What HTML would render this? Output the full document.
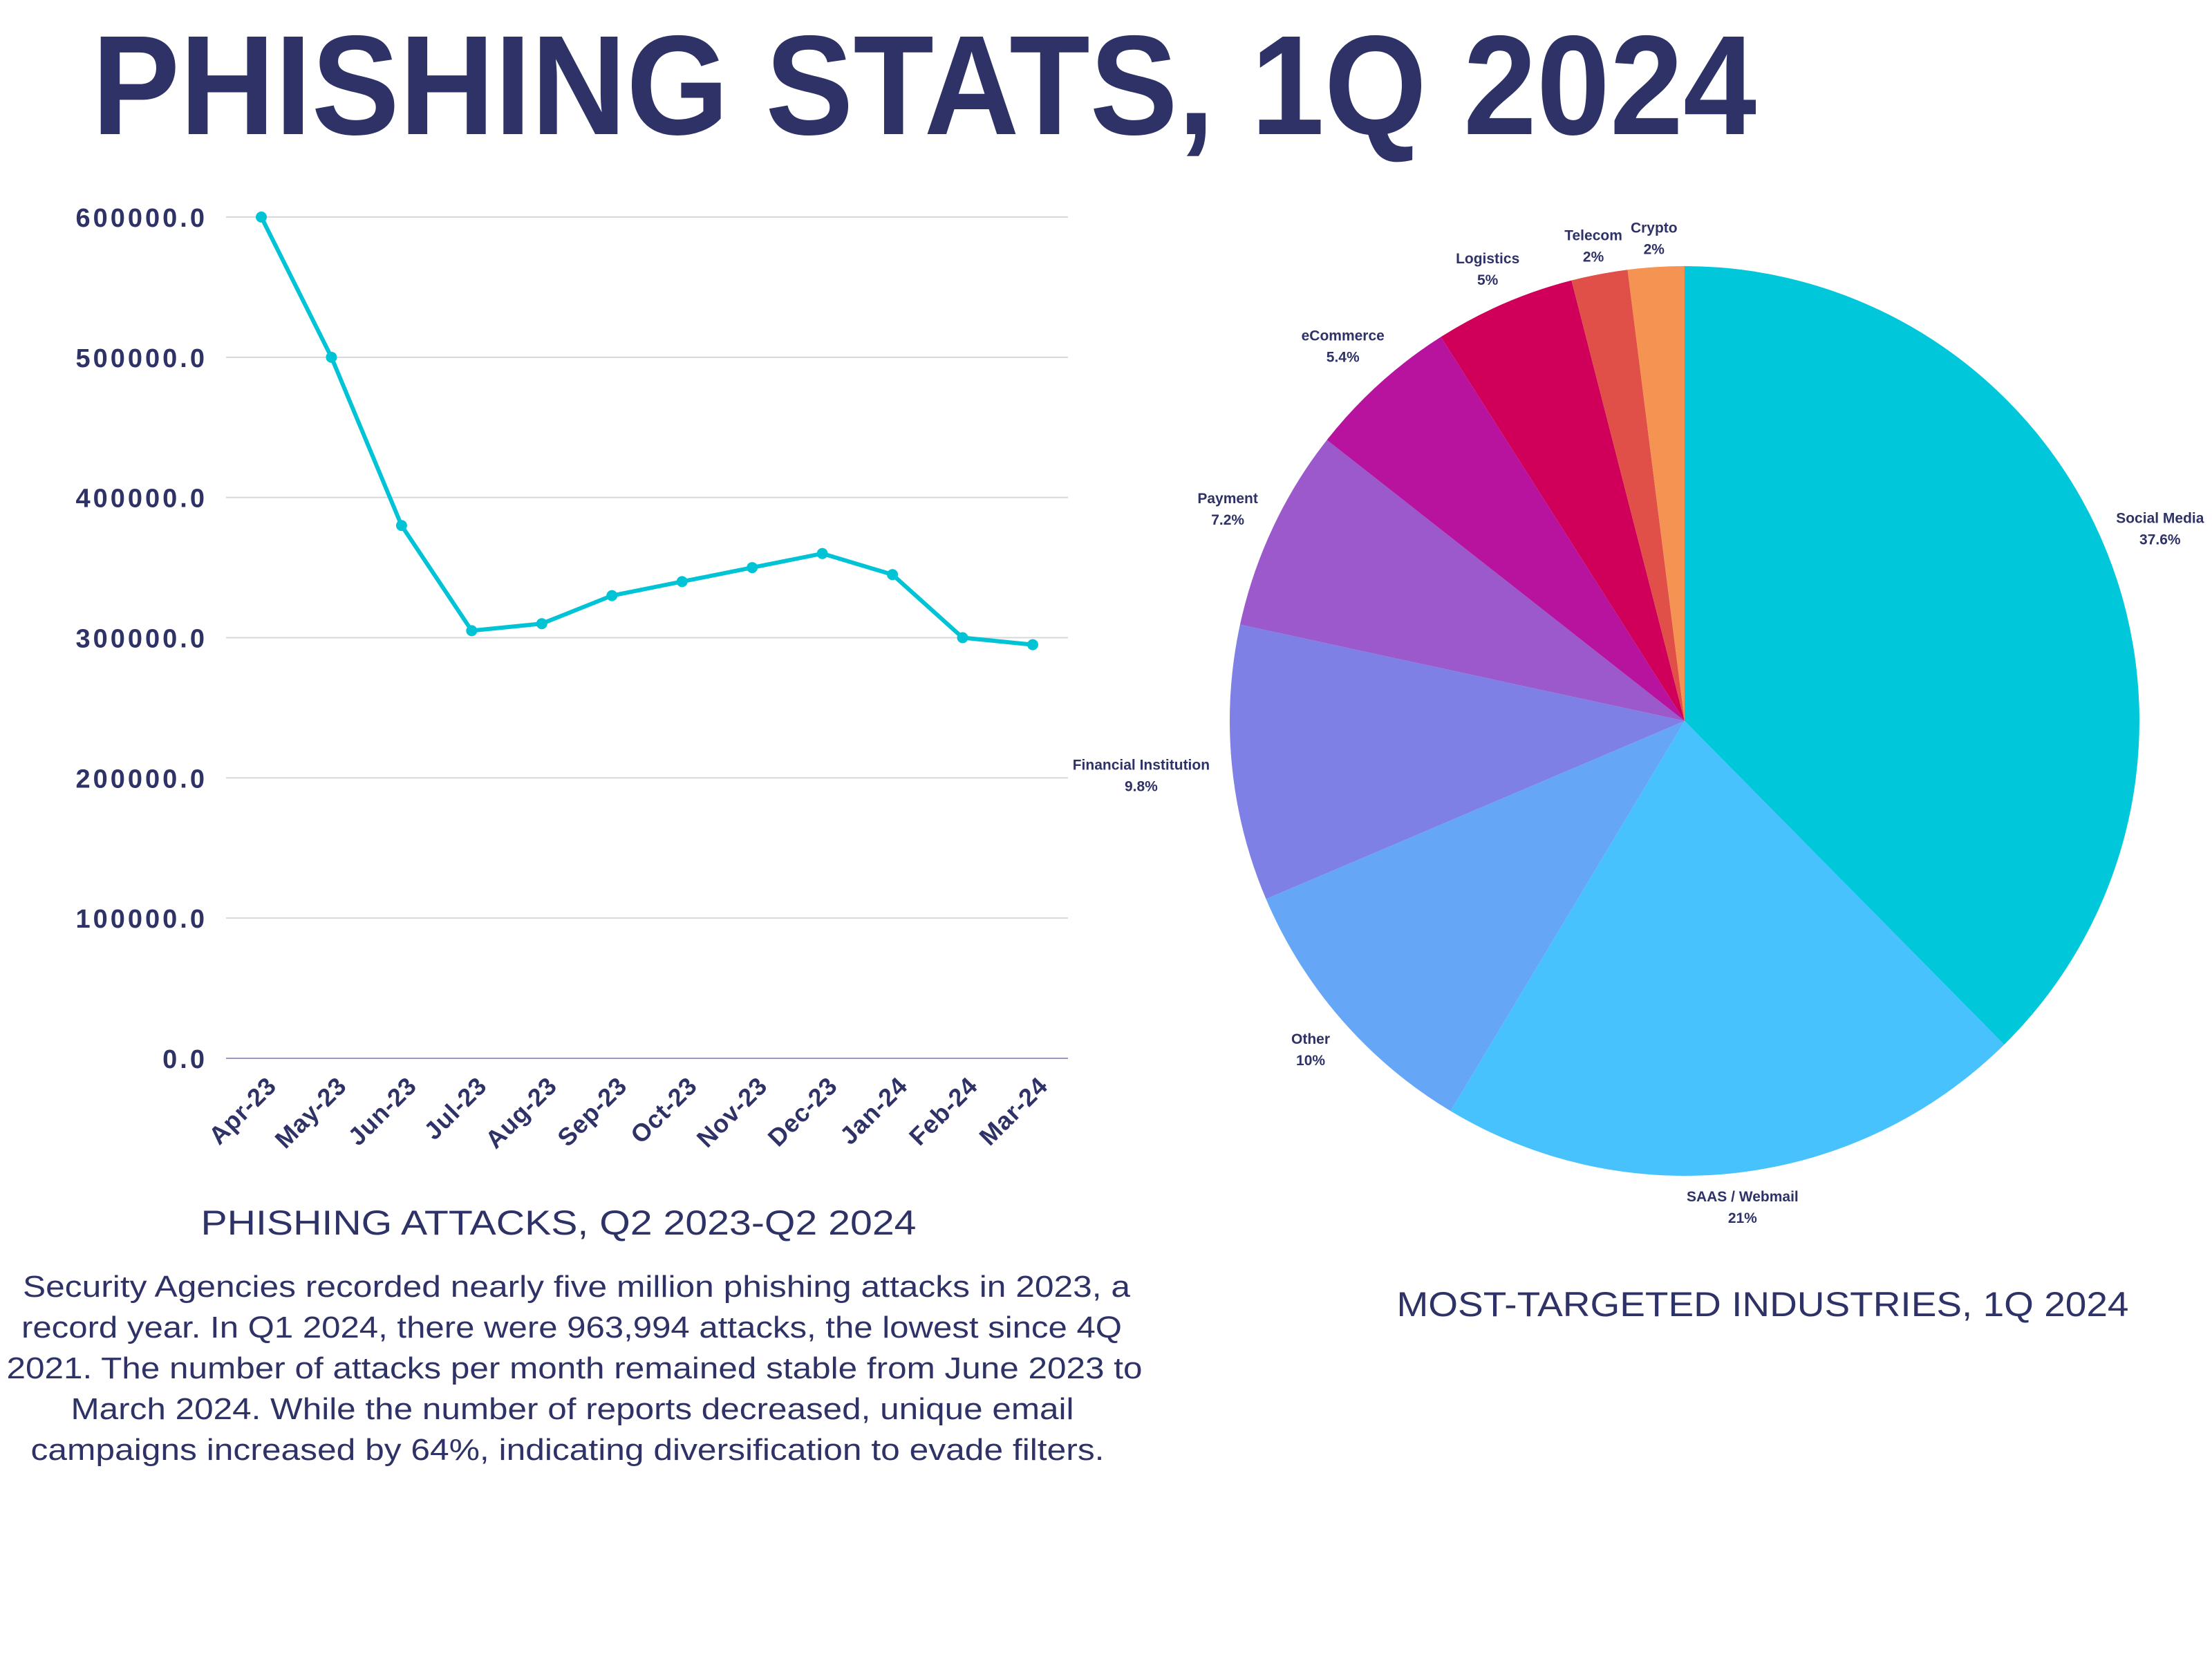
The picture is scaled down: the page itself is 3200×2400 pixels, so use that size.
<!DOCTYPE html>
<html><head><meta charset="utf-8"><style>
html,body{margin:0;padding:0;background:#fff;width:3200px;height:2400px;overflow:hidden}
svg{display:block}
text{font-family:"Liberation Sans",sans-serif;fill:#2e3266}
</style></head><body>
<svg id="root" width="3200" height="2400" viewBox="0 0 3200 2400">
<text x="133" y="194" font-size="205" font-weight="bold" textLength="2408" lengthAdjust="spacingAndGlyphs">PHISHING STATS, 1Q 2024</text>
<g id="line-chart"></g>
<g id="pie-chart"></g>
<text x="808" y="1786" font-size="50" text-anchor="middle" textLength="1035" lengthAdjust="spacingAndGlyphs">PHISHING ATTACKS, Q2 2023-Q2 2024</text>
<g font-size="44">
<text x="834" y="1876" text-anchor="middle" textLength="1602" lengthAdjust="spacingAndGlyphs">Security Agencies recorded nearly five million phishing attacks in 2023, a</text>
<text x="827" y="1935" text-anchor="middle" textLength="1592" lengthAdjust="spacingAndGlyphs">record year. In Q1 2024, there were 963,994 attacks, the lowest since 4Q</text>
<text x="831" y="1994" text-anchor="middle" textLength="1643" lengthAdjust="spacingAndGlyphs">2021. The number of attacks per month remained stable from June 2023 to</text>
<text x="828" y="2053" text-anchor="middle" textLength="1451" lengthAdjust="spacingAndGlyphs">March 2024. While the number of reports decreased, unique email</text>
<text x="821" y="2112" text-anchor="middle" textLength="1553" lengthAdjust="spacingAndGlyphs">campaigns increased by 64%, indicating diversification to evade filters.</text>
</g>
<text x="2550" y="1904" font-size="50" text-anchor="middle" textLength="1059" lengthAdjust="spacingAndGlyphs">MOST-TARGETED INDUSTRIES, 1Q 2024</text>
</svg>
<script>
const months = ["Apr-23","May-23","Jun-23","Jul-23","Aug-23","Sep-23","Oct-23","Nov-23","Dec-23","Jan-24","Feb-24","Mar-24"];
const attacks = [600000,500000,380000,305000,310000,330000,340000,350000,360000,345000,300000,295000];
const yTicks = [0,100000,200000,300000,400000,500000,600000];
const yTickLabels = ["0.0","100000.0","200000.0","300000.0","400000.0","500000.0","600000.0"];
const industries = ["Social Media","SAAS / Webmail","Other","Financial Institution","Payment","eCommerce","Logistics","Telecom","Crypto"];
const shares = [37.6,21,10,9.8,7.2,5.4,5,2,2];
const shareLabels = ["37.6%","21%","10%","9.8%","7.2%","5.4%","5%","2%","2%"];
const sliceColors = ["#00c8da","#48c2fd","#66a6f7","#7f80e6","#9b59cb","#b8139f","#d0005a","#e05048","#f59352"];
const labelRadiusFactor = [1.13,1.07,1.09,1.2,1.11,1.12,1.09,1.07,1.07];

const NS="http://www.w3.org/2000/svg";
function mk(tag,attrs,parent){const e=document.createElementNS(NS,tag);for(const k in attrs)e.setAttribute(k,attrs[k]);parent.appendChild(e);return e;}

// line chart
const lc=document.getElementById('line-chart');
const plotLeft=327,plotRight=1545,plotTop=314,plotBottom=1531,yMax=600000;
const px0=378,px1=1494;
const xs=i=>px0+(px1-px0)*i/(months.length-1);
const ys=v=>plotBottom-(plotBottom-plotTop)*v/yMax;
yTicks.forEach((t,i)=>{
  const g=mk('line',{x1:plotLeft,x2:plotRight,y1:ys(t),y2:ys(t),stroke:t===0?'#9a98c0':'#d8d8d8','stroke-width':2},lc);
  
  
  const tx=mk('text',{x:300,y:ys(t)+14,'font-size':38,'font-weight':'bold','text-anchor':'end','letter-spacing':4},lc);
  tx.textContent=yTickLabels[i];
  
  
});
const pts=attacks.map((v,i)=>xs(i)+','+ys(v)).join(' ');
const pl=mk('polyline',{points:pts,fill:'none',stroke:'#00c4d6','stroke-width':6,'stroke-linejoin':'round'},lc);


attacks.forEach((v,i)=>{
  const c=mk('circle',{cx:xs(i),cy:ys(v),r:8,fill:'#00c4d6'},lc);
  
  
  const tx=mk('text',{x:0,y:0,'font-size':36,'font-weight':'bold','text-anchor':'end','letter-spacing':1,transform:`translate(${xs(i)+24},${plotBottom+42}) rotate(-45)`},lc);
  tx.textContent=months[i];
  
  
});

// pie chart
const pc=document.getElementById('pie-chart');
const pcx=2437,pcy=1043,pr=658;
const total=shares.reduce((a,b)=>a+b,0);
let acc=0;
shares.forEach((s,i)=>{
  const a0=acc/total*2*Math.PI; acc+=s; const a1=acc/total*2*Math.PI;
  const p=(a)=>[pcx+pr*Math.sin(a),pcy-pr*Math.cos(a)];
  const [sx,sy]=p(a0),[ex,ey]=p(a1);
  const large=(a1-a0)>Math.PI?1:0;
  const path=mk('path',{d:`M${pcx},${pcy} L${sx},${sy} A${pr},${pr} 0 ${large} 1 ${ex},${ey} Z`,fill:sliceColors[i]},pc);
  
  
  const am=(a0+a1)/2, lr=pr*labelRadiusFactor[i];
  const lx=pcx+lr*Math.sin(am), ly=pcy-lr*Math.cos(am);
  const t1=mk('text',{x:lx,y:ly-4,'font-size':21,'font-weight':'bold','text-anchor':'middle'},pc);
  t1.textContent=industries[i];
  
  
  const t2=mk('text',{x:lx,y:ly+27,'font-size':21,'font-weight':'bold','text-anchor':'middle'},pc);
  t2.textContent=shareLabels[i];
  
  
});
</script>
</body></html>
